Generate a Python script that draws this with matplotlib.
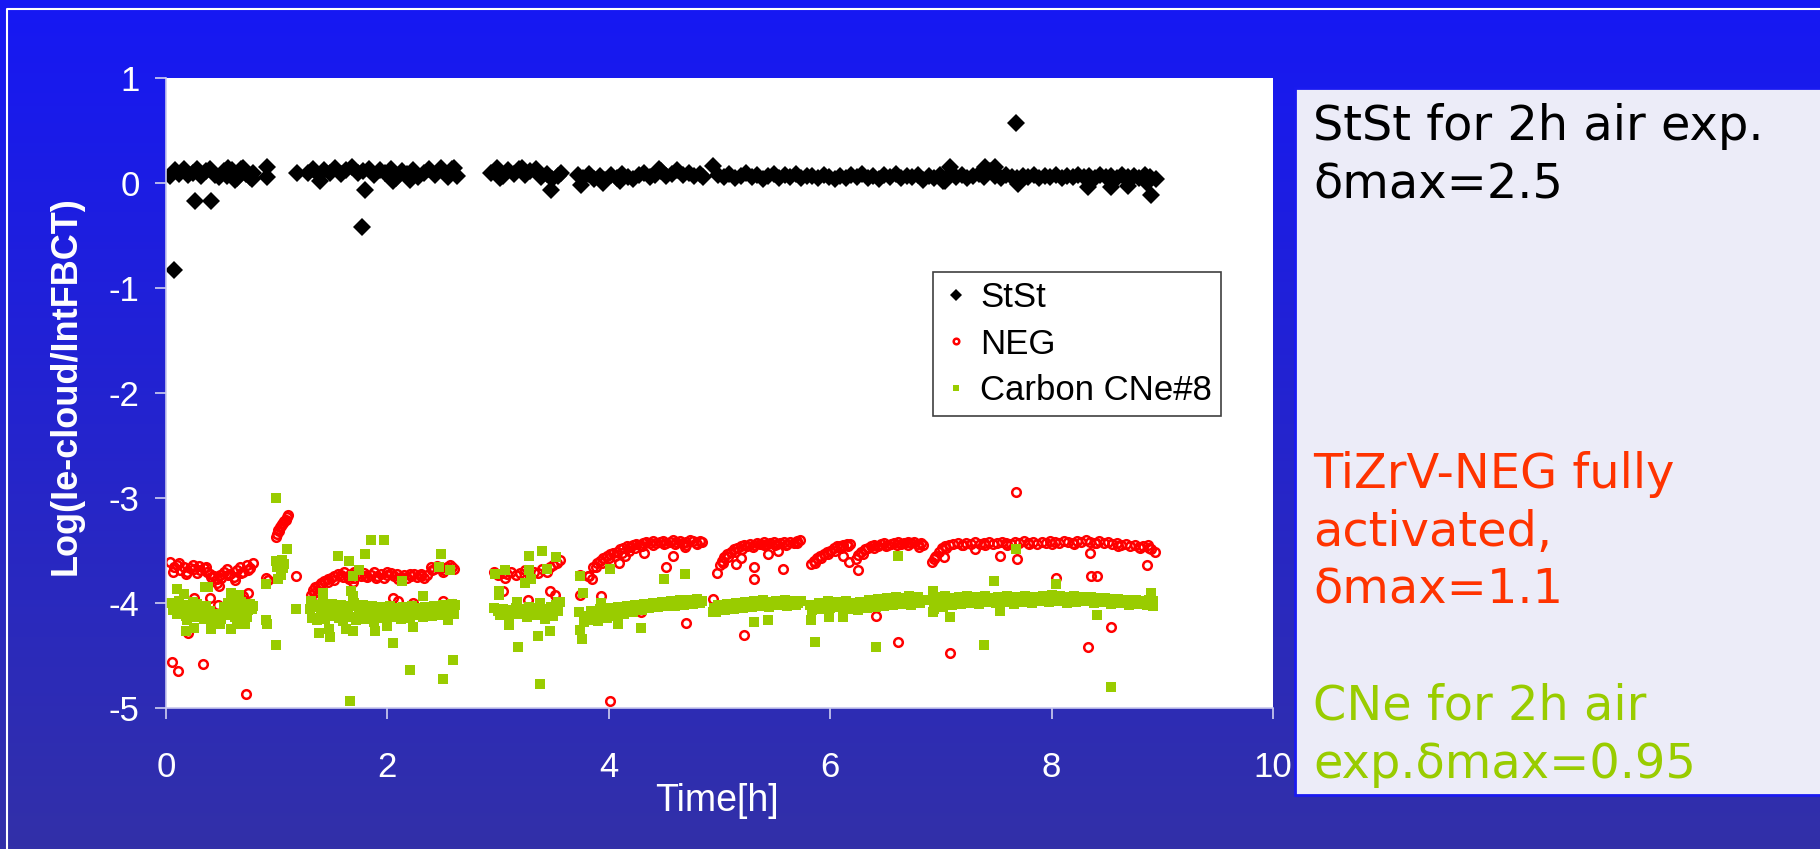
import numpy as np
import matplotlib
matplotlib.use('Agg')
import matplotlib.pyplot as plt
from matplotlib.patches import Rectangle

plt.rcParams['axes.unicode_minus'] = False

# Time [h] and log(Ie-cloud/IntFBCT)
stst_t = [
    0.04, 0.08, 0.12, 0.16, 0.20, 0.24, 0.28, 0.32, 0.36, 0.40, 0.44, 0.48, 0.52, 0.56, 0.60, 0.64, 0.68, 0.72, 0.76, 0.79,
    0.07, 0.26, 0.41, 0.62, 0.70, 0.55, 0.78, 0.91, 0.91, 1.18,
    1.28, 1.33, 1.38, 1.43, 1.48, 1.53, 1.58, 1.63, 1.68, 1.73, 1.78, 1.83, 1.88, 1.93, 1.98, 2.03, 2.08, 2.13, 2.18, 2.23,
    2.28, 2.33, 2.38, 2.43, 2.48, 2.53, 2.58, 2.63,
    1.39, 1.80, 1.77, 2.05, 2.20, 2.55, 2.60,
    2.94, 2.99, 3.04, 3.09, 3.14, 3.19, 3.24, 3.29, 3.34, 3.39, 3.44, 3.49, 3.54, 3.57,
    3.48, 3.02, 3.22,
    3.72, 3.77, 3.82, 3.87, 3.92, 3.97, 4.02, 4.07, 4.12, 4.17, 4.22, 4.27, 4.32, 4.37, 4.42, 4.47, 4.52, 4.57, 4.62, 4.67,
    4.72, 4.77, 4.82, 4.85,
    3.75, 3.95, 4.10, 4.45,
    4.94, 4.99, 5.04, 5.09, 5.14, 5.19, 5.24, 5.29, 5.34, 5.39, 5.44, 5.49, 5.54, 5.59, 5.64, 5.69, 5.74, 5.79,
    5.84, 5.89, 5.94, 5.99, 6.04, 6.09, 6.14, 6.19, 6.24, 6.29, 6.34, 6.39, 6.44, 6.49, 6.54, 6.59, 6.64, 6.69,
    6.74, 6.79, 6.84, 6.89, 6.94, 6.99, 7.04, 7.09, 7.14, 7.19, 7.24, 7.29, 7.34, 7.39, 7.44, 7.49, 7.54, 7.59, 7.64, 7.69,
    7.74, 7.79, 7.84, 7.89, 7.94, 7.99, 8.04, 8.09, 8.14, 8.19, 8.24, 8.29, 8.34, 8.39, 8.44, 8.49, 8.54, 8.59, 8.64, 8.69,
    8.74, 8.79, 8.84, 8.89, 8.94,
    7.68, 7.70, 8.33, 8.54, 8.69, 8.90, 8.86, 7.08, 7.40, 7.49, 7.02,
]
stst_v = [
    0.07, 0.12, 0.09, 0.13, 0.08, 0.10, 0.13, 0.07, 0.11, 0.13, 0.08, 0.06, 0.11, 0.14, 0.12, 0.05, 0.13, 0.09, 0.06, 0.10,
    -0.83, -0.17, -0.17, 0.03, 0.14, 0.07, 0.04, 0.15, 0.06, 0.10,
    0.10, 0.13, 0.08, 0.12, 0.10, 0.14, 0.09, 0.12, 0.15, 0.10, 0.11, 0.13, 0.08, 0.12, 0.10, 0.13, 0.05, 0.11, 0.09, 0.12,
    0.06, 0.10, 0.13, 0.08, 0.14, 0.09, 0.13, 0.07,
    0.02, -0.07, -0.42, 0.02, 0.03, 0.06, 0.14,
    0.10, 0.14, 0.07, 0.12, 0.09, 0.13, 0.08, 0.11, 0.13, 0.06, 0.09, 0.04, 0.07, 0.10,
    -0.07, 0.05, 0.14,
    0.08, 0.05, 0.09, 0.04, 0.07, 0.03, 0.08, 0.05, 0.09, 0.06, 0.04, 0.08, 0.10, 0.06, 0.08, 0.11, 0.07, 0.09, 0.12, 0.08,
    0.10, 0.07, 0.09, 0.06,
    -0.02, 0.00, 0.02, 0.13,
    0.16, 0.08, 0.06, 0.09, 0.05, 0.07, 0.10, 0.06, 0.08, 0.04, 0.07, 0.09, 0.05, 0.08, 0.06, 0.09, 0.05, 0.07,
    0.07, 0.05, 0.08, 0.06, 0.04, 0.07, 0.05, 0.08, 0.06, 0.09, 0.05, 0.07, 0.04, 0.08, 0.06, 0.09, 0.05, 0.07,
    0.06, 0.08, 0.03, 0.07, 0.05, 0.08, 0.02, 0.10, 0.06, 0.08, 0.05, 0.07, 0.09, 0.06, 0.11, 0.07, 0.05, 0.08, 0.06, 0.05,
    0.07, 0.06, 0.08, 0.05, 0.07, 0.06, 0.08, 0.05, 0.07, 0.06, 0.08, 0.06, 0.07, 0.05, 0.08, 0.06, 0.07, 0.05, 0.08, 0.06,
    0.07, 0.05, 0.08, 0.06, 0.04,
    0.57, -0.01, -0.04, -0.04, -0.03, -0.11, 0.00, 0.15, 0.15, 0.15, 0.02,
]

neg_t = [
    0.04, 0.07, 0.10, 0.13, 0.16, 0.19, 0.22, 0.25, 0.28, 0.31, 0.34, 0.37, 0.40, 0.43, 0.46, 0.49, 0.52, 0.55, 0.58, 0.61,
    0.64, 0.67, 0.70, 0.73, 0.76, 0.79,
    0.06, 0.12, 0.18, 0.24, 0.30, 0.36, 0.50, 0.56, 0.62, 0.68, 0.74,
    0.05, 0.105, 0.33, 0.72, 0.25, 0.40, 0.20, 0.74, 0.70, 0.47, 0.46, 0.48, 0.41,
    0.90, 0.92, 0.99, 1.00, 1.01, 1.02, 1.03, 1.04, 1.05, 1.06, 1.07, 1.08, 1.09, 1.10, 1.17,
    1.31, 1.33, 1.35, 1.37, 1.40, 1.43, 1.46, 1.49, 1.52, 1.55, 1.58, 1.61, 1.64, 1.67, 1.70, 1.73, 1.76, 1.79, 1.82, 1.85,
    1.88, 1.91, 1.94, 1.97, 2.00, 2.03, 2.06, 2.09, 2.12, 2.15, 2.18, 2.21, 2.24, 2.27, 2.30, 2.33, 2.36, 2.39, 2.42, 2.45,
    2.48, 2.51, 2.54, 2.57, 2.60,
    1.34, 1.40, 1.46, 1.52, 1.60, 1.70, 1.80, 1.90, 2.00, 2.10, 2.20, 2.30, 2.40, 2.50, 2.58,
    1.65, 1.69, 2.05, 2.10, 2.23, 2.50, 2.59, 1.36,
    2.96, 3.00, 3.04, 3.08, 3.12, 3.16, 3.20, 3.24, 3.28, 3.32, 3.36, 3.40, 3.44, 3.47, 3.50, 3.53, 3.56,
    3.04, 3.06, 3.27, 3.38, 3.47, 3.51,
    3.74, 3.82, 3.86, 3.89, 3.92, 3.95, 3.98, 4.01, 4.04, 4.07, 4.10, 4.13, 4.16, 4.19, 4.22, 4.25, 4.28, 4.31, 4.34, 4.37,
    4.40, 4.43, 4.46, 4.49, 4.52, 4.55, 4.58, 4.61, 4.64, 4.67, 4.70, 4.73, 4.76, 4.79, 4.82, 4.84,
    3.88, 3.94, 4.00, 4.06, 4.12, 4.18, 4.24, 4.30, 4.40, 4.50, 4.60, 4.70, 4.80,
    3.74, 3.815, 3.85, 3.93, 4.01, 4.09, 4.15, 4.32, 4.52, 4.58, 4.70, 4.29, 4.69,
    4.98, 5.00, 5.02, 5.04, 5.07, 5.10, 5.13, 5.16, 5.19, 5.22, 5.25, 5.28, 5.31, 5.34, 5.37, 5.40, 5.43, 5.46, 5.49, 5.52,
    5.55, 5.58, 5.61, 5.64, 5.67, 5.70, 5.73,
    5.03, 5.08, 5.14, 5.20, 5.30, 5.40, 5.50, 5.60, 5.70,
    5.15, 5.19, 5.31, 5.31, 5.44, 5.53, 5.57, 4.94, 5.22,
    5.83, 5.85, 5.88, 5.91, 5.94, 5.97, 6.00, 6.03, 6.06, 6.09, 6.12, 6.15, 6.18,
    5.86, 5.92, 5.98, 6.04, 6.10, 6.16,
    6.12, 6.17,
    6.23, 6.25, 6.28, 6.31, 6.34, 6.37, 6.40, 6.43, 6.46, 6.49, 6.52, 6.55, 6.58, 6.61, 6.64, 6.67, 6.70, 6.73, 6.76, 6.79,
    6.82, 6.84,
    6.30, 6.40, 6.50, 6.60, 6.70, 6.80,
    6.25, 6.41, 6.61,
    6.92, 6.94, 6.96, 6.98, 7.01, 7.04, 7.07, 7.11, 7.15, 7.19, 7.23, 7.27, 7.31, 7.35, 7.39, 7.43, 7.47, 7.51, 7.55, 7.59,
    7.63, 7.67, 7.71, 7.75, 7.79, 7.83, 7.87, 7.91, 7.95, 7.99, 8.03, 8.07, 8.11, 8.15, 8.19, 8.23, 8.27, 8.31, 8.35, 8.39,
    8.43, 8.47, 8.51, 8.55, 8.59, 8.63, 8.67, 8.71, 8.75, 8.79, 8.83, 8.87, 8.90, 8.93,
    6.95, 7.05, 7.20, 7.40, 7.60, 7.80, 8.00, 8.20, 8.40, 8.60, 8.80, 8.88,
    7.68, 7.69, 7.53, 7.03, 7.31, 8.04, 8.35, 8.36, 8.41, 8.86, 8.54, 8.33, 7.08,
]
neg_v = [
    -3.61, -3.66, -3.64, -3.69, -3.66, -3.70, -3.67, -3.68, -3.71, -3.69, -3.67, -3.70, -3.72, -3.74, -3.77, -3.73, -3.70, -3.68, -3.72, -3.75,
    -3.69, -3.66, -3.70, -3.64, -3.67, -3.62,
    -3.70, -3.62, -3.72, -3.64, -3.65, -3.66, -3.76, -3.73, -3.78, -3.71, -3.69,
    -4.56, -4.65, -4.58, -4.87, -3.95, -3.95, -4.29, -3.90, -3.93, -4.02, -3.81, -3.84, -3.75,
    -3.76, -3.78, -3.37, -3.34, -3.30, -3.31, -3.28, -3.27, -3.25, -3.24, -3.22, -3.21, -3.18, -3.16, -3.74,
    -3.92, -3.88, -3.85, -3.84, -3.81, -3.79, -3.77, -3.76, -3.74, -3.72, -3.73, -3.70, -3.74, -3.72, -3.76, -3.72, -3.74, -3.71, -3.75, -3.73,
    -3.70, -3.74, -3.72, -3.76, -3.73, -3.71, -3.74, -3.72, -3.75, -3.73, -3.76, -3.74, -3.72, -3.75, -3.74, -3.76, -3.73, -3.66, -3.68, -3.65,
    -3.67, -3.69, -3.66, -3.64, -3.68,
    -3.90, -3.83, -3.80, -3.78, -3.75, -3.70, -3.74, -3.76, -3.70, -3.77, -3.72, -3.72, -3.69, -3.70, -3.66,
    -3.77, -3.80, -3.95, -3.98, -4.00, -3.98, -4.01, -3.93,
    -3.70, -3.73, -3.71, -3.72, -3.70, -3.73, -3.71, -3.69, -3.72, -3.70, -3.71, -3.68, -3.70, -3.66, -3.64, -3.62, -3.59,
    -3.89, -3.76, -3.97, -4.04, -3.89, -3.92,
    -3.73, -3.74, -3.66, -3.62, -3.60, -3.57, -3.55, -3.53, -3.52, -3.51, -3.49, -3.48, -3.46, -3.47, -3.45, -3.44, -3.45, -3.43, -3.42, -3.43,
    -3.41, -3.43, -3.42, -3.41, -3.43, -3.42, -3.40, -3.42, -3.41, -3.43, -3.42, -3.40, -3.41, -3.43, -3.41, -3.42,
    -3.66, -3.62, -3.57, -3.55, -3.52, -3.50, -3.48, -3.46, -3.45, -3.44, -3.44, -3.45, -3.44,
    -3.92, -3.74, -3.77, -3.93, -4.93, -3.62, -3.55, -3.52, -3.66, -3.55, -4.19, -4.09, -3.47,
    -3.71, -3.64, -3.60, -3.56, -3.53, -3.51, -3.49, -3.48, -3.46, -3.45, -3.46, -3.44, -3.45, -3.43, -3.44, -3.42, -3.44, -3.43, -3.42, -3.44,
    -3.43, -3.42, -3.44, -3.42, -3.43, -3.41, -3.40,
    -3.62, -3.56, -3.51, -3.49, -3.47, -3.45, -3.45, -3.45, -3.43,
    -3.63, -3.57, -3.66, -3.77, -3.53, -3.50, -3.68, -3.96, -4.30,
    -3.63, -3.60, -3.57, -3.55, -3.53, -3.51, -3.50, -3.48, -3.46, -3.46, -3.45, -3.44, -3.44,
    -3.62, -3.57, -3.53, -3.50, -3.48, -3.46,
    -3.55, -3.61,
    -3.58, -3.54, -3.51, -3.49, -3.48, -3.46, -3.45, -3.46, -3.44, -3.43, -3.45, -3.44, -3.43, -3.42, -3.44, -3.43, -3.45, -3.43, -3.42, -3.44,
    -3.43, -3.45,
    -3.53, -3.48, -3.46, -3.45, -3.42, -3.47,
    -3.69, -4.12, -4.37,
    -3.61, -3.58, -3.55, -3.51, -3.48, -3.46, -3.45, -3.44, -3.43, -3.45, -3.43, -3.44, -3.42, -3.44, -3.43, -3.42, -3.44, -3.43, -3.42, -3.43,
    -3.44, -3.42, -3.43, -3.41, -3.43, -3.42, -3.44, -3.42, -3.43, -3.41, -3.42, -3.43, -3.41, -3.42, -3.43, -3.41, -3.42, -3.40, -3.42, -3.43,
    -3.41, -3.43, -3.42, -3.44, -3.43, -3.45, -3.44, -3.46, -3.45, -3.47, -3.46, -3.45, -3.49, -3.51,
    -3.56, -3.48, -3.45, -3.45, -3.45, -3.44, -3.44, -3.44, -3.43, -3.46, -3.48, -3.48,
    -2.94, -3.58, -3.55, -3.56, -3.49, -3.76, -3.52, -3.74, -3.74, -3.64, -4.23, -4.42, -4.48,
]

cne_t = [
    0.04, 0.08, 0.12, 0.16, 0.20, 0.24, 0.28, 0.32, 0.36, 0.40, 0.44, 0.48, 0.52, 0.56, 0.60, 0.64, 0.68, 0.72, 0.76, 0.79,
    0.06, 0.10, 0.14, 0.18, 0.22, 0.26, 0.30, 0.34, 0.38, 0.42, 0.46, 0.50, 0.54, 0.58, 0.62, 0.66, 0.70, 0.74, 0.78,
    0.10, 0.19, 0.18, 0.25, 0.35, 0.38, 0.41, 0.49, 0.59, 0.59, 0.64, 0.71, 0.735, 0.66, 0.16,
    0.90, 0.90, 0.915, 0.99, 1.09, 0.99, 1.02, 1.05, 1.07, 1.00, 1.06, 1.015, 1.035, 0.99, 1.17,
    1.30, 1.34, 1.38, 1.42, 1.46, 1.50, 1.54, 1.58, 1.62, 1.66, 1.70, 1.74, 1.78, 1.82, 1.86, 1.90, 1.94, 1.98, 2.02, 2.06,
    2.10, 2.14, 2.18, 2.22, 2.26, 2.30, 2.34, 2.38, 2.42, 2.46, 2.50, 2.54, 2.58, 2.61,
    1.32, 1.36, 1.40, 1.44, 1.48, 1.52, 1.56, 1.60, 1.64, 1.68, 1.72, 1.76, 1.80, 1.84, 1.88, 1.92, 1.96, 2.00, 2.04, 2.08,
    2.12, 2.16, 2.20, 2.24, 2.28, 2.32, 2.36, 2.40, 2.44, 2.48, 2.52, 2.56, 2.60,
    1.55, 1.65, 1.74, 1.69, 1.80, 1.85, 1.97, 2.13, 2.32, 2.48, 2.47, 2.57, 1.42, 1.67, 1.69, 1.385, 1.47, 1.48, 1.63, 1.69,
    1.89, 2.05, 2.20, 2.50, 2.59, 1.66, 2.23, 2.55, 2.00, 1.31,
    2.96, 3.00, 3.04, 3.08, 3.12, 3.16, 3.20, 3.24, 3.28, 3.32, 3.36, 3.40, 3.44, 3.48, 3.52, 3.56,
    3.02, 3.10, 3.18, 3.26, 3.34, 3.42, 3.50, 3.54,
    2.97, 3.06, 3.01, 3.01, 3.24, 3.28, 3.30, 3.28, 3.40, 3.44, 3.52, 3.17, 3.10, 3.18, 3.36, 3.38, 3.47, 3.38, 3.54,
    3.80, 3.84, 3.88, 3.92, 3.96, 4.00, 4.04, 4.08, 4.12, 4.16, 4.20, 4.24, 4.28, 4.32, 4.36, 4.40, 4.44, 4.48, 4.52, 4.56,
    4.60, 4.64, 4.68, 4.72, 4.76, 4.80, 4.84,
    3.78, 3.82, 3.86, 3.90, 3.94, 3.98, 4.02, 4.06, 4.10, 4.14, 4.18, 4.22, 4.26, 4.30, 4.36, 4.44, 4.52, 4.60, 4.68, 4.76,
    4.82,
    3.74, 3.735, 3.74, 3.755, 3.77, 4.01, 3.93, 4.08, 4.29, 4.50, 4.69,
    4.95, 4.99, 5.03, 5.07, 5.11, 5.15, 5.19, 5.23, 5.27, 5.31, 5.35, 5.39, 5.43, 5.47, 5.51, 5.55, 5.59, 5.63, 5.67, 5.71,
    5.74,
    4.97, 5.05, 5.13, 5.21, 5.29, 5.37, 5.45, 5.53, 5.61, 5.69,
    4.94, 5.31, 5.44,
    5.82, 5.86, 5.90, 5.94, 5.98, 6.02, 6.06, 6.10, 6.14, 6.18,
    5.84, 5.92, 6.00, 6.08, 6.16,
    5.83, 5.86, 5.99, 6.12,
    6.23, 6.27, 6.31, 6.35, 6.39, 6.43, 6.47, 6.51, 6.55, 6.59, 6.63, 6.67, 6.71, 6.75, 6.79, 6.83,
    6.25, 6.33, 6.41, 6.49, 6.57, 6.65, 6.73, 6.81,
    6.41, 6.61,
    6.92, 6.96, 7.00, 7.04, 7.08, 7.12, 7.16, 7.20, 7.24, 7.28, 7.32, 7.36, 7.40, 7.44, 7.48, 7.52, 7.56, 7.60, 7.64, 7.68,
    7.72, 7.76, 7.80, 7.84, 7.88, 7.92, 7.96, 8.00, 8.04, 8.08, 8.12, 8.16, 8.20, 8.24, 8.28, 8.32, 8.36, 8.40, 8.44, 8.48,
    8.52, 8.56, 8.60, 8.64, 8.68, 8.72, 8.76, 8.80, 8.84, 8.88, 8.92,
    6.94, 7.02, 7.10, 7.18, 7.26, 7.34, 7.42, 7.50, 7.58, 7.66, 7.74, 7.82, 7.90, 7.98, 8.06, 8.14, 8.22, 8.30, 8.38, 8.46,
    8.54, 8.62, 8.70, 8.78, 8.86, 8.92,
    6.93, 6.93, 7.08, 7.48, 7.53, 7.68, 7.39, 8.04, 8.41, 8.54, 8.90,
]
cne_v = [
    -4.00, -4.03, -3.98, -4.02, -4.05, -3.99, -4.01, -4.06, -4.03, -4.08, -4.12, -4.10, -4.04, -4.00, -3.98, -4.02, -3.99, -4.04, -4.01, -4.03,
    -4.07, -4.10, -4.06, -4.12, -4.09, -4.13, -4.08, -4.15, -4.12, -4.17, -4.19, -4.15, -4.11, -4.07, -4.13, -4.09, -4.11, -4.07, -4.06,
    -3.87, -4.16, -4.27, -4.24, -3.85, -3.85, -4.25, -4.20, -3.90, -4.25, -4.20, -4.20, -4.13, -3.92, -3.91,
    -3.82, -4.16, -4.20, -3.00, -3.49, -3.60, -3.62, -3.59, -3.63, -3.66, -3.67, -3.77, -3.73, -4.40, -4.06,
    -4.06, -4.02, -4.04, -4.00, -4.03, -4.01, -4.05, -4.02, -4.06, -4.03, -4.00, -4.04, -4.02, -4.05, -4.03, -4.07, -4.04, -4.06, -4.03, -4.05,
    -4.07, -4.04, -4.06, -4.03, -4.05, -4.07, -4.04, -4.06, -4.03, -4.05, -4.02, -4.04, -4.01, -4.02,
    -4.14, -4.16, -4.11, -4.15, -4.12, -4.09, -4.14, -4.17, -4.10, -4.13, -4.16, -4.11, -4.15, -4.12, -4.18, -4.14, -4.11, -4.16, -4.13, -4.10,
    -4.15, -4.12, -4.14, -4.11, -4.09, -4.13, -4.10, -4.12, -4.08, -4.11, -4.09, -4.07, -4.10,
    -3.55, -3.60, -3.69, -3.74, -3.53, -3.40, -3.40, -3.79, -3.93, -3.53, -3.66, -3.69, -3.90, -3.89, -3.93, -4.29, -4.25, -4.32, -4.25, -4.27,
    -4.27, -4.38, -4.64, -4.72, -4.54, -4.93, -4.23, -4.16, -4.22, -3.98,
    -4.05, -4.08, -4.06, -4.09, -4.07, -4.05, -4.08, -4.06, -4.04, -4.07, -4.05, -4.09, -4.06, -4.04, -4.02, -3.99,
    -4.11, -4.12, -4.10, -4.13, -4.11, -4.15, -4.12, -4.08,
    -3.72, -3.69, -3.89, -3.92, -3.81, -3.55, -3.77, -3.69, -3.50, -3.68, -3.56, -3.99, -4.21, -4.42, -4.31, -4.77, -4.27, -4.00, -3.99,
    -4.12, -4.08, -4.10, -4.06, -4.09, -4.05, -4.07, -4.04, -4.06, -4.03, -4.05, -4.02, -4.04, -4.01, -4.03, -4.00, -4.02, -3.99, -4.01, -3.98,
    -4.00, -3.97, -3.99, -3.97, -3.98, -3.96, -3.98,
    -4.18, -4.16, -4.15, -4.17, -4.13, -4.14, -4.11, -4.12, -4.09, -4.10, -4.08, -4.09, -4.06, -4.07, -4.05, -4.04, -4.03, -4.03, -4.02, -4.01,
    -4.00,
    -3.74, -4.09, -4.26, -4.34, -3.90, -3.68, -4.00, -4.20, -4.24, -3.77, -3.72,
    -4.05, -4.02, -4.04, -4.01, -4.03, -4.00, -4.02, -3.99, -4.01, -3.98, -4.00, -3.97, -3.99, -4.01, -3.98, -4.00, -3.97, -3.99, -3.98, -4.00,
    -3.98,
    -4.09, -4.07, -4.06, -4.05, -4.04, -4.03, -4.04, -4.02, -4.03, -4.02,
    -4.09, -4.18, -4.16,
    -4.02, -4.05, -4.00, -4.03, -3.98, -4.02, -3.99, -4.01, -3.98, -4.00,
    -4.07, -4.06, -4.05, -4.04, -4.06,
    -4.16, -4.37, -4.13, -4.13,
    -4.03, -3.99, -4.02, -3.97, -4.00, -3.96, -3.99, -3.95, -3.98, -3.94, -3.97, -3.95, -3.93, -3.96, -3.94, -3.97,
    -4.07, -4.05, -4.04, -4.03, -4.02, -4.01, -4.02, -4.00,
    -4.42, -3.55,
    -3.97, -3.94, -3.96, -3.93, -3.95, -3.97, -3.94, -3.96, -3.93, -3.95, -3.94, -3.96, -3.93, -3.95, -3.97, -3.94, -3.96, -3.93, -3.95, -3.94,
    -3.96, -3.93, -3.95, -3.94, -3.96, -3.93, -3.94, -3.92, -3.95, -3.93, -3.94, -3.96, -3.93, -3.95, -3.94, -3.96, -3.94, -3.95, -3.97, -3.95,
    -3.96, -3.97, -3.96, -3.98, -3.97, -3.98, -3.97, -3.99, -3.98, -3.97, -3.98,
    -4.06, -4.04, -4.02, -4.01, -4.00, -4.01, -3.99, -4.00, -3.99, -4.01, -3.99, -4.00, -3.98, -3.99, -3.98, -4.00, -3.99, -3.98, -4.00, -3.99,
    -4.01, -4.00, -4.02, -4.01, -4.02, -4.03,
    -3.89, -4.09, -4.13, -3.79, -4.08, -3.49, -4.40, -3.82, -4.11, -4.80, -3.90,
]

series_labels = ['StSt', 'NEG', 'Carbon CNe#8']
x_ticks = [0, 2, 4, 6, 8, 10]
y_ticks = [-5, -4, -3, -2, -1, 0, 1]

note_lines = ['StSt for 2h air exp.', 'δmax=2.5',
              'TiZrV-NEG fully', 'activated,', 'δmax=1.1',
              'CNe for 2h air', 'exp.δmax=0.95']
note_rows = [0, 1, 6, 7, 8, 10, 11]
note_colors = ['black', 'black', '#FF3300', '#FF3300', '#FF3300', '#99CC00', '#99CC00']

W, H = 1820, 849
fig = plt.figure(figsize=(W / 100, H / 100), dpi=100)

# slide background (blue gradient, thin white frame, note box)
bg = fig.add_axes([0, 0, 1, 1])
bg.set_xlim(0, W)
bg.set_ylim(H, 0)
bg.axis('off')
top_c = np.array([22, 24, 244]) / 255
bot_c = np.array([50, 48, 168]) / 255
f = np.linspace(0, 1, 256)[:, None]
grad = (top_c * (1 - f) + bot_c * f)[:, None, :]
bg.imshow(grad, extent=[0, W, H, 0], aspect='auto', zorder=0)
bg.plot([7, 7, W + 10], [H + 10, 9, 9], color='white', lw=1.5, zorder=1)
bg.add_patch(Rectangle((1295, 88), 540, 707, facecolor='#ECECF8',
                       edgecolor='#1A1AF0', lw=2, zorder=2))
for line, row, col in zip(note_lines, note_rows, note_colors):
    bg.text(1313, 140 + 58 * row, line, color=col, fontsize=34.5,
            family='DejaVu Sans', va='baseline', ha='left', zorder=3)

# the chart
ax = fig.add_axes([166 / W, 1 - 708 / H, 1107 / W, 630 / H])
ax.set_facecolor('white')
ax.plot(stst_t, stst_v, linestyle='none', marker='D', color='black',
        ms=9.5, mew=0, label=series_labels[0])
ax.plot(neg_t, neg_v, linestyle='none', marker='o', mfc='none', mec='#FF0000',
        ms=6.2, mew=1.8, label=series_labels[1])
ax.plot(cne_t, cne_v, linestyle='none', marker='s', color='#99CC00',
        ms=7.6, mew=0, label=series_labels[2])

ax.set_xlim(0, 10)
ax.set_ylim(-5, 1)
ax.set_xticks(x_ticks)
ax.set_yticks(y_ticks)
for s in ['top', 'right']:
    ax.spines[s].set_visible(False)
for s in ['left', 'bottom']:
    ax.spines[s].set_color('#C8C8EE')
    ax.spines[s].set_linewidth(1.2)
ax.tick_params(direction='out', length=8, width=1.2, color='#D0D0F0',
               labelcolor='white', labelsize=25)
ax.tick_params(axis='x', pad=23)
ax.tick_params(axis='y', pad=11)
for lab in ax.get_xticklabels() + ax.get_yticklabels():
    lab.set_family('Liberation Sans')

fig.text(66 / W, 1 - 386 / H, 'Log(Ie-cloud/IntFBCT)', rotation=90,
         color='white', fontsize=26, fontweight='bold', family='Liberation Sans',
         ha='center', va='center')
fig.text(717 / W, 1 - 801 / H, 'Time[h]', color='white', fontsize=27,
         family='Liberation Sans', ha='center', va='center')

leg = ax.legend(loc='upper left', bbox_to_anchor=(0.693, 0.692), borderaxespad=0,
                frameon=True, fancybox=False, framealpha=1, edgecolor='#404040',
                prop={'family': 'Liberation Sans', 'size': 25}, borderpad=0.25,
                labelspacing=0.4, handlelength=0.8, handletextpad=0.3,
                numpoints=1, markerscale=0.65)
leg.get_frame().set_linewidth(1.2)

fig.savefig('out.png', dpi=100)
